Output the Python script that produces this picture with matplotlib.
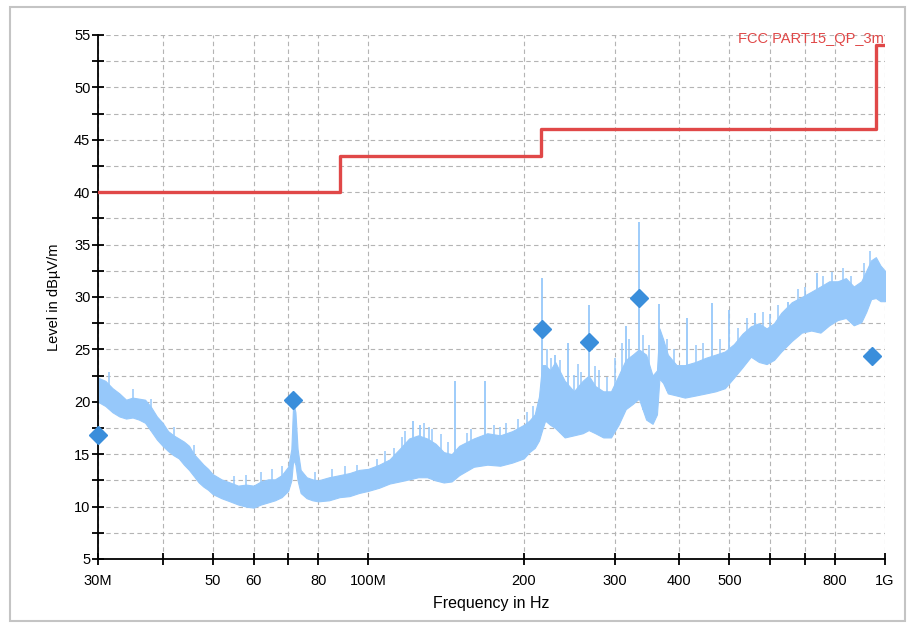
import numpy as np
import matplotlib
matplotlib.use('Agg')
import matplotlib.pyplot as plt
from matplotlib.patches import Rectangle

trace_freq = [30, 31, 32, 33, 34, 35, 36, 37, 38, 39, 40, 41, 42, 43, 44, 45, 46, 47, 48, 49,
              50, 52, 54, 56, 58, 60, 62, 64, 66, 68, 70, 71, 71.6, 72.3, 73, 74, 76, 78, 80,
              84, 88, 92, 96, 100, 105, 110, 115, 120, 125, 130, 135, 140, 145, 150, 160, 170,
              180, 190, 200, 205, 210, 214, 217, 220, 225, 230, 240, 250, 260, 267, 275, 285,
              295, 305, 315, 325, 334, 345, 355, 362, 366, 372, 380, 395, 410, 430, 450, 470,
              490, 510, 530, 550, 570, 590, 610, 630, 660, 690, 720, 750, 780, 810, 840, 870,
              900, 920, 940, 960, 980, 1000]
trace_low = [20.0, 19.6, 19.0, 18.6, 18.4, 18.5, 18.3, 18.0, 17.2, 16.4, 15.8, 15.3, 14.9, 14.6,
             14.0, 13.5, 12.9, 12.3, 11.9, 11.6, 11.2, 10.8, 10.5, 10.2, 10.0, 9.9, 10.2, 10.4,
             10.6, 10.9, 11.5, 12.5, 14.5, 14.0, 12.5, 11.3, 10.8, 10.6, 10.5, 10.6, 10.9, 11.0,
             11.3, 11.5, 11.8, 12.2, 12.4, 12.6, 12.8, 12.8, 12.5, 12.3, 12.4, 13.0, 13.8, 14.0,
             13.9, 14.2, 14.6, 15.2, 15.6, 16.3, 17.3, 18.2, 17.8, 17.5, 16.6, 16.8, 17.0, 17.3,
             17.0, 16.6, 16.6, 17.8, 19.3, 19.8, 20.3, 18.3, 17.9, 18.8, 22.2, 21.8, 20.8, 20.6,
             20.4, 20.6, 20.8, 21.0, 21.3, 22.3, 23.3, 24.3, 23.8, 23.6, 24.0, 24.8, 25.8, 26.6,
             26.8, 26.6, 27.3, 27.8, 28.0, 27.3, 27.6, 28.6, 29.8, 29.9, 29.6, 29.6]
trace_high = [22.3, 22.0, 21.3, 20.8, 20.2, 20.4, 20.3, 20.2, 19.5, 18.6, 18.0, 17.2, 16.8, 16.5,
              16.2, 15.8, 15.0, 14.5, 14.0, 13.6, 13.1, 12.6, 12.3, 12.0, 12.1, 12.0, 12.4, 12.6,
              12.6, 13.0, 13.8, 15.5, 20.0, 19.0, 15.5, 13.5, 12.8, 12.6, 12.5, 12.8, 13.0, 13.2,
              13.5, 13.6, 14.0, 14.5, 15.5, 16.5, 16.8, 16.5, 16.0, 15.2, 15.0, 15.8, 16.5, 17.0,
              16.8, 17.2, 17.8, 18.2, 18.8, 20.5, 23.5, 23.5, 23.0, 23.8, 22.0, 21.0, 22.0, 22.5,
              21.5, 21.0, 21.0, 22.5, 24.0, 24.5, 25.0, 24.5, 22.5, 23.0, 27.0, 26.0, 24.5, 23.5,
              23.5, 23.8, 24.2, 24.5, 24.8, 25.5, 26.5, 27.2, 27.5, 27.0, 27.5, 28.5, 29.5, 30.0,
              30.5, 31.0, 31.5, 31.5, 31.8, 31.0, 31.5, 32.5, 33.5, 33.8, 33.0, 32.5]

# narrow spikes sticking out of the band (MHz, top level)
spike_freq = [122, 126, 147, 168, 217, 230, 244, 267, 316, 334, 366, 413, 462, 500, 560, 650, 740]
spike_top = [18.2, 17.8, 22.0, 22.0, 31.8, 24.5, 25.6, 29.2, 27.2, 37.2, 29.3, 28.0, 29.4, 28.8,
             28.5, 29.5, 32.3]

# smaller noise peaks on top of the band
fine_freq = [31.5, 35, 38, 42, 46, 55, 58, 62, 65, 68, 79, 85, 90, 95, 104, 108, 112, 116, 118,
             128, 131, 133, 138, 143, 155, 158, 175, 180, 185, 195, 203, 208, 222, 226, 235,
             250, 255, 258, 275, 280, 290, 300, 310, 320, 340, 350, 378, 390, 430, 445, 480,
             520, 540, 580, 600, 620, 680, 700, 760, 790, 830, 860, 910, 935]
fine_top = [22.8, 21.2, 20.3, 17.6, 15.9, 12.9, 13.0, 13.3, 13.6, 13.9, 13.3, 13.6, 13.9, 14.0,
            14.5, 15.3, 15.6, 16.6, 17.2, 18.0, 17.6, 17.4, 16.9, 16.2, 17.0, 17.4, 17.8, 17.6,
            18.0, 18.4, 19.0, 19.6, 25.0, 24.2, 24.0, 22.6, 23.6, 22.8, 23.4, 23.0, 22.4, 24.2,
            25.6, 26.0, 26.4, 25.4, 26.0, 25.0, 25.4, 25.6, 26.0, 27.0, 28.0, 28.6, 28.4, 29.2,
            30.8, 31.0, 32.0, 32.4, 32.8, 32.0, 33.2, 34.4]

# final quasi-peak results
qp_freq = [30.0, 71.6, 217, 267, 334, 944]
qp_level = [16.8, 20.2, 26.9, 25.7, 29.9, 24.4]

# limit line FCC Part 15 QP 3 m
limit_freq = [30, 88, 88, 216, 216, 960, 960, 1000]
limit_level = [40, 40, 43.5, 43.5, 46, 46, 54, 54]

xtick_vals = [30, 40, 50, 60, 70, 80, 100, 200, 300, 400, 500, 600, 700, 800, 1000]
xtick_text = ['30M', '', '50', '60', '', '80', '100M', '200', '300', '400', '500', '', '', '800', '1G']

plt.rcParams['font.family'] = ['Liberation Sans', 'DejaVu Sans']

fig = plt.figure(figsize=(9.08, 6.24), dpi=100)
ax = fig.add_axes([98 / 908, 1 - 559 / 624, 787 / 908, 524 / 624])

trace_col = '#96c8fa'
ax.fill_between(trace_freq, trace_low, trace_high, color=trace_col, lw=0.8, edgecolor=trace_col, zorder=2)
lf = np.log10(trace_freq)
base = np.interp(np.log10(spike_freq), lf, trace_low)
ax.vlines(spike_freq, base, spike_top, color=trace_col, lw=1.3, zorder=2)
base2 = np.interp(np.log10(fine_freq), lf, trace_low)
ax.vlines(fine_freq, base2, fine_top, color=trace_col, lw=1.1, zorder=2)

ax.plot(limit_freq, limit_level, color='#e04848', lw=2.4, zorder=3)
ax.plot(qp_freq, qp_level, 'D', color='#3a8edb', ms=9, ls='none', zorder=4, clip_on=False)

ax.text(0.999, 0.993, 'FCC PART15_QP_3m', transform=ax.transAxes, ha='right', va='center',
        color='#e04848', fontsize=10.5)

ax.set_xscale('log')
ax.set_xlim(30, 1000)
ax.set_ylim(5, 55)
ax.set_xticks(xtick_vals)
ax.set_xticklabels(xtick_text)
ax.xaxis.set_minor_locator(matplotlib.ticker.NullLocator())
ax.set_yticks(np.arange(5, 56, 5))
ax.set_yticks(np.arange(7.5, 55, 5), minor=True)

ax.grid(True, which='both', color='#b4b4b4', ls=(0, (4, 3)), lw=0.8, zorder=1)
ax.set_axisbelow(True)
for s in ['top', 'right']:
    ax.spines[s].set_visible(False)
for s in ['left', 'bottom']:
    ax.spines[s].set_linewidth(1.3)

ax.tick_params(axis='both', which='both', direction='inout', length=9, width=1.3, labelsize=10.5)
ax.tick_params(axis='x', pad=6)
ax.tick_params(axis='y', pad=1)

ax.set_xlabel('Frequency in Hz', fontsize=11.5, labelpad=6)
ax.set_ylabel('Level in dBµV/m', fontsize=10.5, labelpad=9)

fig.patches.append(Rectangle((10 / 908, 1 - 621 / 624), 895 / 908, 614 / 624, transform=fig.transFigure,
                             fill=False, edgecolor='#c4c4c4', lw=1.5))

plt.savefig('out.png', dpi=100)
